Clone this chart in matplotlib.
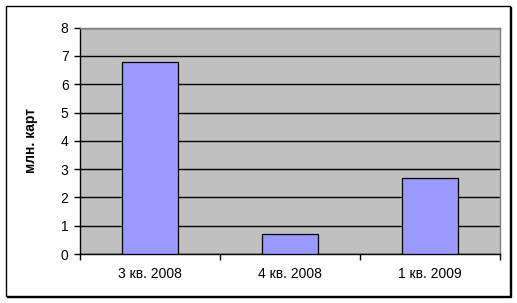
import matplotlib
matplotlib.use("Agg")
import matplotlib.pyplot as plt
from matplotlib.patches import Rectangle

plt.rcParams["font.family"] = ["Liberation Sans", "DejaVu Sans"]

categories = ["3 кв. 2008", "4 кв. 2008", "1 кв. 2009"]
values = [6.8, 0.7, 2.7]
y_ticks = [0, 1, 2, 3, 4, 5, 6, 7, 8]
y_label = "млн. карт"

W, H = 517, 303
fig = plt.figure(figsize=(W / 100, H / 100), dpi=100)
fig.patch.set_facecolor("white")

# outer chart frame with shadow (pixel coords -> figure fraction)
def px(x, y, w, h):
    return (x / W, 1 - (y + h) / H, w / W, h / H)

x0, y0, w0, h0 = px(5.5, 5.5, 504, 290)
fig.patches.append(Rectangle((x0 + 1.5 / W, y0 - 1.5 / H), w0, h0, transform=fig.transFigure,
                             fc="black", ec="black", lw=1.0, zorder=0))
fig.patches.append(Rectangle((x0, y0), w0, h0, transform=fig.transFigure,
                             fc="white", ec="black", lw=1.0, zorder=1))

ax = fig.add_axes(px(79.7, 27.7, 420.3, 226.3))
ax.set_zorder(2)
ax.set_facecolor("#C0C0C0")

xs = list(range(len(categories)))
ax.bar(xs, values, width=0.4, color="#9999FF", edgecolor="black", linewidth=0.9, zorder=3)

ax.set_xlim(-0.5, len(categories) - 0.5)
ax.set_ylim(0, 8)
ax.set_yticks(y_ticks)
ax.yaxis.grid(True, color="black", linewidth=1.0, zorder=1)
ax.set_axisbelow(True)

ax.set_xticks(xs)
ax.set_xticklabels(categories, fontsize=10)
ax.set_xticks([x - 0.5 for x in range(len(categories) + 1)], minor=True)
ax.tick_params(axis="x", which="major", length=0, pad=9)
ax.tick_params(axis="x", which="minor", length=4, width=1, direction="out", color="black")
ax.tick_params(axis="y", length=4, width=1, direction="out", labelsize=10, pad=4)

for s in ["top", "right"]:
    ax.spines[s].set_color("#808080")
    ax.spines[s].set_linewidth(1.0)
for s in ["left", "bottom"]:
    ax.spines[s].set_color("black")
    ax.spines[s].set_linewidth(1.0)

ax.set_ylabel(y_label, fontsize=10, fontweight="bold", labelpad=16)

fig.savefig("out.png", dpi=100)
